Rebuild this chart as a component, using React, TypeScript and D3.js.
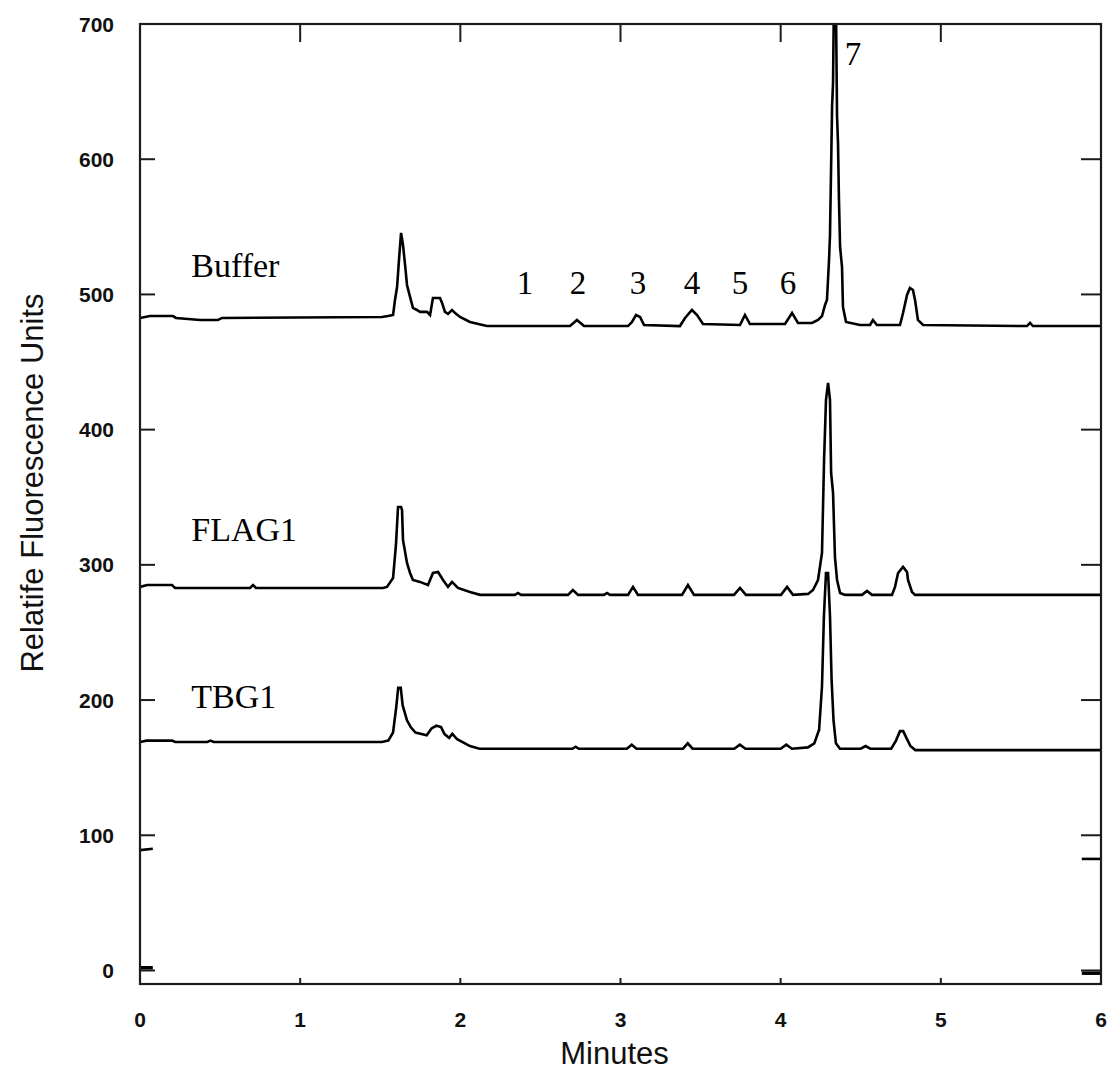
import React from "react";
import * as d3 from "d3";

// ---------- data ----------
const xTickValues = [0, 1, 2, 3, 4, 5, 6];
const yTickValues = [0, 100, 200, 300, 400, 500, 600, 700];

const xTitle = "Minutes";
const yTitle = "Relatife Fluorescence Units";

const traceNames = ["Buffer", "FLAG1", "TBG1"];
const traceLabelTime = 0.32;
const traceLabelValues = [513, 318, 194];

const peakLabels = ["1", "2", "3", "4", "5", "6", "7"];
const peakLabelTimes = [2.404, 2.735, 3.109, 3.446, 3.746, 4.046, 4.452];
const peakLabelValues = [500, 500, 500, 500, 500, 500, 670];

// [minutes, RFU]
const bufferTrace: [number, number][] = [
  [0, 482.6], [0.062, 484.0], [0.206, 484.0], [0.225, 482.6], [0.375, 481.1], [0.487, 481.1],
  [0.512, 482.6], [1.511, 483.3], [1.548, 484.0], [1.58, 484.8], [1.592, 495.9], [1.605, 505.5],
  [1.617, 525.5], [1.63, 545.5], [1.642, 536.6], [1.655, 521.8], [1.667, 507.0], [1.686, 498.2],
  [1.704, 490.0], [1.729, 488.5], [1.748, 487.1], [1.792, 487.1], [1.811, 484.8], [1.829, 497.4],
  [1.873, 497.4], [1.886, 493.7], [1.904, 487.1], [1.923, 485.6], [1.948, 488.5], [1.973, 485.6],
  [1.998, 483.3], [2.06, 479.6], [2.166, 476.6], [2.685, 476.6], [2.728, 481.1], [2.772, 476.6],
  [3.047, 476.6], [3.072, 479.6], [3.097, 484.8], [3.122, 483.3], [3.147, 477.4], [3.371, 476.6],
  [3.403, 482.6], [3.446, 488.5], [3.478, 484.8], [3.515, 478.1], [3.746, 477.4], [3.777, 484.8],
  [3.808, 478.1], [4.027, 478.1], [4.071, 486.3], [4.108, 478.9], [4.196, 478.9], [4.233, 481.1],
  [4.258, 484.0], [4.277, 492.2], [4.289, 495.9], [4.302, 525.5], [4.308, 544.0], [4.321, 638.7],
  [4.327, 656.5], [4.339, 790], [4.352, 631.4], [4.358, 612.1], [4.364, 570.0], [4.371, 535.1],
  [4.383, 520.3], [4.389, 490.7], [4.408, 479.6], [4.495, 477.4], [4.558, 477.4], [4.576, 481.1],
  [4.601, 477.4], [4.745, 477.4], [4.764, 486.3], [4.789, 499.6], [4.807, 504.8], [4.826, 503.3],
  [4.839, 495.9], [4.857, 481.1], [4.889, 477.4], [5.538, 476.6], [5.557, 478.9], [5.575, 476.6],
  [6, 476.6],
];

const flag1Trace: [number, number][] = [
  [0, 283.7], [0.044, 285.1], [0.2, 285.1], [0.219, 282.9], [0.687, 282.9], [0.706, 285.1],
  [0.724, 282.9], [1.517, 282.9], [1.542, 283.7], [1.58, 290.3], [1.598, 314.7], [1.611, 342.8],
  [1.63, 342.8], [1.636, 340.6], [1.642, 318.4], [1.667, 301.4], [1.686, 294.0], [1.704, 288.8],
  [1.748, 287.4], [1.798, 285.1], [1.829, 294.0], [1.861, 294.7], [1.892, 288.8], [1.923, 283.7],
  [1.948, 287.4], [1.985, 282.9], [2.06, 280.0], [2.123, 277.8], [2.341, 277.8], [2.36, 279.2],
  [2.379, 277.8], [2.672, 277.8], [2.703, 281.4], [2.735, 277.8], [2.897, 277.8], [2.916, 279.2],
  [2.934, 277.8], [3.047, 277.8], [3.078, 283.7], [3.109, 277.8], [3.384, 277.8], [3.421, 285.1],
  [3.459, 277.8], [3.709, 277.8], [3.746, 282.9], [3.783, 277.8], [4.002, 277.8], [4.04, 283.7],
  [4.077, 277.8], [4.171, 278.5], [4.202, 281.4], [4.233, 288.8], [4.258, 308.8], [4.271, 377.6],
  [4.283, 422.0], [4.296, 434.6], [4.308, 422.0], [4.315, 368.0], [4.327, 353.2], [4.339, 305.8],
  [4.352, 288.8], [4.371, 279.2], [4.402, 277.8], [4.508, 277.8], [4.539, 280.7], [4.57, 277.8],
  [4.695, 277.8], [4.714, 283.7], [4.733, 294.0], [4.764, 298.5], [4.789, 294.7], [4.795, 288.8],
  [4.82, 279.9], [4.839, 277.8], [6, 277.8],
];

const tbg1Trace: [number, number][] = [
  [0, 169], [0.04, 170], [0.2, 170], [0.22, 169], [0.42, 169], [0.44, 170], [0.46, 169],
  [1.51, 169], [1.55, 170], [1.58, 176], [1.6, 195], [1.612, 209], [1.628, 209], [1.64, 196],
  [1.667, 185], [1.69, 180], [1.72, 176], [1.79, 174], [1.82, 179], [1.85, 181], [1.88, 180],
  [1.9, 175], [1.93, 172], [1.95, 175], [1.98, 171], [2.06, 166], [2.12, 164], [2.7, 164],
  [2.72, 165.5], [2.74, 164], [3.04, 164], [3.07, 167], [3.1, 164], [3.39, 164], [3.42, 168],
  [3.45, 164], [3.71, 164], [3.745, 167], [3.78, 164], [4.0, 164], [4.035, 167], [4.07, 164],
  [4.17, 165], [4.21, 168], [4.24, 178], [4.258, 210], [4.27, 262], [4.283, 294], [4.296, 294],
  [4.308, 262], [4.318, 215], [4.33, 185], [4.345, 168], [4.37, 164], [4.5, 164], [4.53, 166],
  [4.56, 164], [4.69, 164], [4.72, 170], [4.745, 177], [4.765, 177], [4.785, 172], [4.81, 166],
  [4.84, 163], [6, 163],
];

// short remnants of further traces visible only at the plot edges
const edgeTraceA: [number, number][][] = [
  [[0, 89], [0.08, 90]],
  [[5.88, 82.5], [6, 82.5]],
];
const edgeTraceB: [number, number][][] = [
  [[0, 2], [0.08, 2]],
  [[5.88, -2], [6, -2]],
];

// ---------- layout ----------
const W = 1113;
const H = 1072;
const left = 140;
const right = 1101;
const top = 24;
const bottom = 984;

export default function App() {
  const x = d3.scaleLinear().domain([0, 6]).range([left, right]);
  const y = d3.scaleLinear().domain([-10, 700]).range([bottom, top]);
  const line = d3
    .line<[number, number]>()
    .x((d) => x(d[0]))
    .y((d) => y(d[1]));

  const traces = [bufferTrace, flag1Trace, tbg1Trace];
  const axisColor = "#1c1c1c";
  const sans = "'Liberation Sans', Arial, Helvetica, sans-serif";
  const serif = "'Liberation Serif', 'Times New Roman', serif";

  return (
    <svg
      width={W}
      height={H}
      style={{ position: "absolute", left: 0, top: 0, background: "#fff" }}
    >
      <defs>
        <clipPath id="plotClip">
          <rect x={left} y={top} width={right - left} height={bottom - top} />
        </clipPath>
      </defs>
      <rect x={0} y={0} width={W} height={H} fill="#fff" />

      {/* traces */}
      <g clipPath="url(#plotClip)" fill="none" stroke="#000" strokeWidth={2.6} strokeLinejoin="miter">
        {traces.map((t, i) => (
          <path key={i} d={line(t) || ""} />
        ))}
        {edgeTraceA.map((s, i) => (
          <path key={"a" + i} d={line(s) || ""} />
        ))}
        {edgeTraceB.map((s, i) => (
          <path key={"b" + i} d={line(s) || ""} strokeWidth={3.5} />
        ))}
      </g>

      {/* frame */}
      <rect
        x={left}
        y={top}
        width={right - left}
        height={bottom - top}
        fill="none"
        stroke={axisColor}
        strokeWidth={2.2}
      />

      {/* y ticks (left & right, inward) */}
      {yTickValues.slice(0, -1).map((v) => (
        <g key={"yt" + v} stroke={axisColor} strokeWidth={2}>
          <line x1={left} x2={left + 15} y1={y(v)} y2={y(v)} />
          <line x1={right - 20} x2={right} y1={y(v)} y2={y(v)} />
        </g>
      ))}
      {/* x ticks: top long, bottom short */}
      {xTickValues.slice(1, -1).map((v) => (
        <g key={"xt" + v} stroke={axisColor} strokeWidth={2}>
          <line x1={x(v)} x2={x(v)} y1={top} y2={top + 18} />
          <line x1={x(v)} x2={x(v)} y1={bottom} y2={bottom - 6} />
        </g>
      ))}

      {/* y tick labels */}
      {yTickValues.map((v) => (
        <text
          key={"yl" + v}
          x={114}
          y={y(v)}
          dy="0.36em"
          textAnchor="end"
          fontFamily={sans}
          fontWeight="bold"
          fontSize={21}
          fill="#111"
        >
          {v}
        </text>
      ))}
      {/* x tick labels */}
      {xTickValues.map((v) => (
        <text
          key={"xl" + v}
          x={x(v)}
          y={1027}
          textAnchor="middle"
          fontFamily={sans}
          fontWeight="bold"
          fontSize={21}
          fill="#111"
        >
          {v}
        </text>
      ))}

      {/* axis titles */}
      <text
        x={(left + right) / 2 - 6}
        y={1064}
        textAnchor="middle"
        fontFamily={sans}
        fontSize={31}
        fill="#111"
      >
        {xTitle}
      </text>
      <text
        transform={`translate(43, 483) rotate(-90)`}
        textAnchor="middle"
        fontFamily={sans}
        fontSize={31}
        fill="#111"
      >
        {yTitle}
      </text>

      {/* trace labels */}
      {traceNames.map((n, i) => (
        <text
          key={n}
          x={x(traceLabelTime)}
          y={y(traceLabelValues[i])}
          fontFamily={serif}
          fontSize={34}
          fill="#000"
        >
          {n}
        </text>
      ))}

      {/* peak labels */}
      {peakLabels.map((p, i) => (
        <text
          key={"p" + p}
          x={x(peakLabelTimes[i])}
          y={y(peakLabelValues[i])}
          textAnchor="middle"
          fontFamily={serif}
          fontSize={33}
          fill="#000"
        >
          {p}
        </text>
      ))}
    </svg>
  );
}
